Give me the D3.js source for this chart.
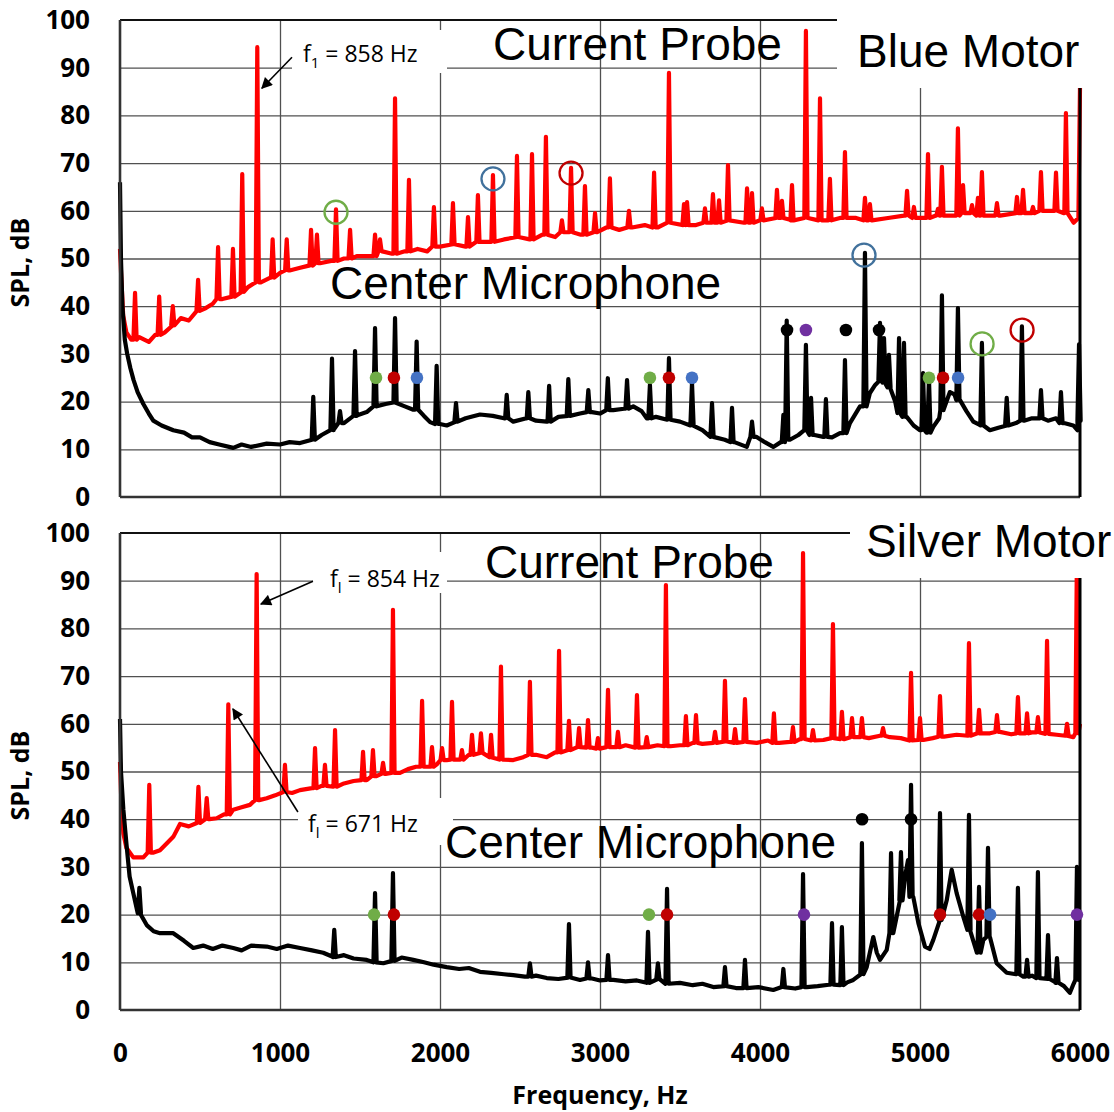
<!DOCTYPE html>
<html>
<head>
<meta charset="utf-8">
<script src="https://cdn.jsdelivr.net/npm/d3@7"></script>
<style>
body{margin:0;background:#fff;}
svg{display:block;}
.tick text{font-family:"Open Sans",sans-serif;font-weight:bold;font-size:26px;fill:#000;}
.big{font-family:"Liberation Sans",Arial,sans-serif;font-size:46px;fill:#000;}
.note{font-family:"Open Sans",sans-serif;font-size:23px;fill:#000;}
.ttl{font-family:"Open Sans",sans-serif;font-weight:bold;font-size:25px;fill:#000;}
</style>
</head>
<body>
<div class="container"></div>
<script>
// x / y ticks
var freqTicks=[0,1000,2000,3000,4000,5000,6000];
var splTicks=[0,10,20,30,40,50,60,70,80,90,100];

// Blue motor, current probe: baseline samples [Hz, dB]
var blueProbe=[[0,52],[8,46],[20,38],[40,34.5],[70,33],[120,33.5],[180,32.5],[220,34],[280,34.5],[330,36],[380,37.5],[430,37],[480,39],[530,39.5],[580,40.5],[640,41.5],[700,42],[760,43],[800,44],[880,45],[940,46],[1000,47],[1060,47.5],[1120,48],[1180,48.5],[1250,49],[1320,49.5],[1400,50],[1480,50.5],[1560,50.5],[1640,51.5],[1700,51],[1780,51.5],[1860,52],[1920,51.5],[2000,52.5],[2080,53],[2160,52.5],[2240,53.5],[2320,53.5],[2400,54],[2480,54.5],[2560,54],[2640,55],[2720,54.5],[2800,55.5],[2880,55],[2960,55.5],[3040,56.5],[3120,56],[3200,56.5],[3280,57],[3360,56.5],[3440,57.5],[3520,57],[3600,57],[3700,57.5],[3800,58],[3900,57.5],[4000,58],[4100,58.5],[4200,58],[4300,58.5],[4400,58],[4500,58.5],[4600,58.5],[4700,58],[4800,58.5],[4900,59],[5000,58.5],[5100,59],[5200,59],[5300,59.5],[5400,59],[5500,59],[5600,59.5],[5700,59.5],[5800,60],[5900,59.5],[5960,57.5],[5990,58.5],[6000,86]];
// Blue motor, current probe: spikes [Hz, dB]
var blueProbePeaks=[[94,42.8],[245,42],[330,40],[488,45.5],[613,52.4],[706,52],[764,67.7],[858,94.3],[954,54],[1042,54],[1194,56],[1231,55],[1350,60.3],[1438,56],[1594,55],[1625,54],[1719,83.6],[1806,66.5],[1962,60.8],[2081,61.6],[2175,58.7],[2237,63.3],[2331,67.5],[2481,71.5],[2575,71.9],[2662,75.5],[2762,58],[2819,69],[2906,65.2],[2969,59.5],[3062,66.8],[3181,60],[3338,68],[3431,88.9],[3525,61.4],[3544,61.8],[3656,60.5],[3706,63.5],[3744,62.2],[3800,69.6],[3919,64.7],[3950,63.7],[4012,60.5],[4106,64.4],[4137,62.1],[4200,65.4],[4287,97.7],[4375,83.6],[4437,66.7],[4531,72.3],[4656,62.7],[4687,61.4],[4919,64.2],[4962,60.8],[5050,71.9],[5112,60.4],[5137,69.2],[5237,77.3],[5269,65.4],[5325,61.2],[5362,62.7],[5387,68.1],[5481,61.6],[5606,62.9],[5644,64.4],[5706,60.8],[5756,68.1],[5850,68],[5912,80.5]];

// Blue motor, center microphone
var blueMic=[[0,66],[6,50],[15,40],[30,33],[45,30],[65,27],[85,24.5],[110,22],[146,19.5],[180,17.5],[208,16],[260,15],[333,14],[400,13.5],[450,12.5],[500,12.5],[560,11.5],[620,11],[708,10.3],[760,11],[820,10.5],[917,11.2],[1000,11],[1060,11.5],[1125,11.3],[1200,12],[1260,13],[1333,14],[1400,15.5],[1470,17],[1542,17.8],[1600,19],[1660,19.5],[1720,19.8],[1780,19],[1833,18.3],[1900,17],[1938,15.7],[2000,15.3],[2042,15],[2100,15.8],[2160,16.5],[2250,17.3],[2330,17],[2400,16.5],[2458,15.8],[2540,16.5],[2600,16],[2667,15.8],[2740,16.8],[2800,17],[2875,17.5],[2950,17.8],[3000,17.5],[3083,18.2],[3150,18.5],[3208,19],[3260,18],[3292,16.5],[3350,16.8],[3420,16.2],[3500,15.8],[3580,15],[3640,14],[3708,12.6],[3780,12],[3840,11.5],[3917,10.5],[3979,12.6],[4030,11.5],[4083,10.5],[4130,11.5],[4187,12],[4240,13],[4292,14],[4340,13],[4396,12.6],[4450,12.5],[4500,13.4],[4562,15.5],[4625,19],[4687,21.8],[4720,23.5],[4750,24.5],[4780,24],[4812,23],[4845,20],[4875,17.6],[4917,16.8],[4960,15],[5000,14],[5040,13.5],[5083,14.7],[5120,16.5],[5146,18.2],[5187,22],[5215,21.5],[5250,20.3],[5290,18],[5333,15.8],[5380,15],[5437,14],[5490,14.5],[5542,15],[5600,15.5],[5650,16],[5700,16.5],[5750,16.5],[5800,16],[5850,16.5],[5900,15.5],[5958,15],[5985,14],[6000,16]];
var blueMicPeaks=[[1208,21],[1325,29],[1375,18],[1469,30.6],[1594,35.4],[1719,37.5],[1854,32.6],[1979,27.5],[2100,19.7],[2417,21.4],[2552,22],[2682,23.3],[2802,24.7],[2927,22.4],[3049,24.9],[3169,24.5],[3312,23.5],[3431,29.1],[3575,23.9],[3700,19.7],[3825,18.7],[3950,15.8],[4146,17.2],[4167,37],[4287,31.9],[4319,20.8],[4412,20.5],[4531,28.7],[4656,51.2],[4750,36.5],[4775,33.3],[4806,29.8],[4869,33.3],[4900,32.3],[5019,26],[5056,24.9],[5137,42.3],[5237,39.6],[5387,32.3],[5542,20.8],[5637,35.8],[5756,22.4],[5881,22],[5994,32]];

// Silver motor, current probe
var silverProbe=[[0,52],[8,44],[21,37],[40,34],[83,32],[146,32],[210,33],[250,33.5],[333,36.3],[375,39],[430,38.5],[500,39.2],[560,40],[604,40.2],[650,41],[708,42],[760,42.5],[812,43],[870,44],[917,44.4],[970,45],[1021,45.7],[1075,45.5],[1125,46.1],[1200,46.5],[1260,47],[1333,46.8],[1400,47.5],[1460,48],[1542,48.2],[1600,49],[1660,49.5],[1750,49.7],[1800,50.5],[1850,51],[1920,51],[1980,51.5],[2042,52.4],[2100,52.5],[2180,53.5],[2250,53.9],[2320,53],[2400,52.5],[2458,52.4],[2520,53],[2600,53.5],[2667,53],[2720,54],[2800,54.5],[2875,55.1],[2950,55],[3000,54.8],[3083,55.1],[3160,55.5],[3220,55],[3292,55.1],[3360,55.5],[3440,55.3],[3500,55.5],[3580,56],[3640,55.8],[3708,56],[3780,56.3],[3840,56],[3917,56.2],[3979,56],[4050,56.5],[4120,56],[4187,56.2],[4250,56.8],[4320,56.5],[4396,56.6],[4460,57],[4530,56.8],[4604,57.2],[4680,57],[4750,57.5],[4812,57.2],[4880,57],[4950,56.5],[5021,56.6],[5080,57],[5150,57.3],[5229,57.7],[5300,57.5],[5370,58],[5437,58],[5500,58.3],[5570,57.8],[5646,58],[5700,58.2],[5780,57.9],[5854,57.7],[5920,57.5],[5958,57.2],[5990,58],[6000,60]];
var silverProbePeaks=[[183,47.2],[490,46.8],[542,44.4],[677,64.1],[854,91.4],[1031,51.4],[1219,54.9],[1281,51.4],[1344,58.7],[1519,54.1],[1581,54.5],[1644,51.8],[1706,83.9],[1888,64.8],[1950,55.1],[2013,54.9],[2075,64.6],[2137,54.5],[2200,57.7],[2256,58],[2319,57.7],[2381,72],[2562,68.8],[2744,75.3],[2806,60.6],[2869,59.1],[2925,60.8],[2987,57],[3050,67.1],[3112,58.3],[3231,66],[3292,57.2],[3412,89.1],[3537,61.6],[3600,61.8],[3719,58.3],[3781,69],[3844,58.9],[3906,65.2],[4087,62.2],[4206,59.3],[4269,95.8],[4331,58.7],[4456,80.9],[4512,62.5],[4575,61.2],[4637,61.2],[4769,59.1],[4944,70.7],[5000,61.2],[5125,65.8],[5306,76.9],[5369,62.9],[5481,61.8],[5612,65.6],[5669,62.2],[5737,61.4],[5794,77.4],[5919,60],[5981,96]];

// Silver motor, center microphone
var silverMic=[[0,61],[6,50],[21,42],[42,34.2],[60,28],[83,24.5],[125,20.3],[167,17.8],[210,16.5],[250,16.1],[333,16.1],[400,14.5],[458,13],[520,13.5],[580,12.8],[640,13.5],[708,13],[760,12.5],[820,13.5],[917,13.3],[980,12.8],[1050,13.5],[1125,13],[1200,12.5],[1270,12],[1333,11.1],[1400,11.5],[1460,10.8],[1542,10.5],[1600,10],[1646,9.8],[1700,10.3],[1760,11],[1833,10.5],[1900,10],[1960,9.5],[2042,9],[2120,8.6],[2180,8.8],[2250,8],[2320,7.8],[2400,7.5],[2458,7.3],[2530,7],[2600,7.2],[2667,6.7],[2740,6.5],[2800,6.8],[2875,6.3],[2950,6.6],[3000,6.2],[3083,6.3],[3160,6],[3230,6.2],[3292,5.7],[3360,6.5],[3430,5.5],[3500,5.7],[3580,5.2],[3640,5.5],[3708,4.8],[3780,5],[3850,4.6],[3917,4.6],[3990,4.8],[4083,4.2],[4150,4.8],[4220,4.5],[4292,4.8],[4360,5],[4430,5.3],[4500,5.2],[4545,5.8],[4583,6.3],[4630,7.5],[4667,9],[4708,15.3],[4730,12],[4750,10.5],[4792,12.6],[4833,16.1],[4875,23],[4906,27.9],[4925,31.4],[4958,23.7],[4990,18.2],[5031,13.3],[5060,12.8],[5083,14.7],[5125,18.9],[5167,23],[5198,29.4],[5229,24.5],[5271,19.5],[5312,16.8],[5356,12],[5396,14.7],[5437,15.3],[5479,9.8],[5542,7.8],[5600,7.5],[5646,7],[5700,7.2],[5750,6.7],[5800,6.5],[5854,5.7],[5900,5],[5937,3.6],[5960,5.5],[6000,6.3]];
var silverMicPeaks=[[121,25.6],[1339,16.8],[1594,24.5],[1706,28.7],[2562,9.8],[2806,18],[2925,10],[3050,11.5],[3300,16.4],[3362,9.8],[3419,25.4],[3781,9],[3906,10.5],[4146,8.6],[4269,28.5],[4450,18.2],[4512,17.4],[4637,35],[4819,32.9],[4881,33.1],[4944,47.2],[5125,41.3],[5306,40.9],[5369,25.8],[5425,34],[5612,25.6],[5669,10.5],[5737,28.9],[5800,15.7],[5856,10.9],[5981,30]];

// harmonic markers [Hz, dB, family]
var blueRings=[[1350,59.7,"green"],[2331,66.7,"blue"],[2819,67.9,"red"],[4650,50.7,"blue"],[5388,32.1,"green"],[5638,35,"red"]];
var blueDots=[[1600,25,"green"],[1712,25,"red"],[1856,25,"blue"],[3312,25,"green"],[3431,25,"red"],[3575,25,"blue"],[5056,25,"green"],[5144,25,"red"],[5238,25,"blue"],[4169,35,"black"],[4287,35,"purple"],[4537,35,"black"],[4744,35,"black"]];
var silverRings=[];
var silverDots=[[1588,20,"green"],[1712,20,"red"],[3306,20,"green"],[3419,20,"red"],[4275,20,"purple"],[5125,20,"red"],[5369,20,"red"],[5438,20,"blue"],[5981,20,"purple"],[4638,40,"black"],[4944,40,"black"]];

var ringColor={green:"#70ad47",blue:"#41719c",red:"#c00000"};
var dotColor={green:"#70ad47",blue:"#4472c4",red:"#c00000",purple:"#7030a0",black:"#000"};

var W=1114,H=1112;
var x=d3.scaleLinear().domain([0,6000]).range([120,1080]);
var yTop=d3.scaleLinear().domain([0,100]).range([497,20]);
var yBot=d3.scaleLinear().domain([0,100]).range([1010,533]);

var svg=d3.select(".container").append("svg").attr("width",W).attr("height",H);

svg.append("defs").append("marker")
	.attr("id","arr").attr("viewBox","0 0 10 10")
	.attr("refX",9).attr("refY",5)
	.attr("markerWidth",8).attr("markerHeight",7)
	.attr("orient","auto")
	.append("path").attr("d","M0,0L10,5L0,10z").attr("fill","#000");

// baseline samples + narrow spikes -> pixel polyline
function spectrum(base,peaks,y){
	var fs=base.map(function(d){return d[0];});
	var pts=base.map(function(d){return {f:d[0],p:[[x(d[0]),y(d[1])]]};});
	peaks.forEach(function(pk){
		var i=d3.minIndex(fs,function(f){return Math.abs(f-pk[0]);});
		var foot=y(base[i][1]), px=x(pk[0]);
		pts.push({f:pk[0],p:[[px-1.6,foot],[px,y(pk[1])],[px+1.6,foot]]});
	});
	pts.sort(function(a,b){return a.f-b.f;});
	return d3.merge(pts.map(function(d){return d.p;}));
}

var line=d3.line();

function drawPanel(y,probe,probePk,mic,micPk,rings,dots){
	var g=svg.append("g");
	var h=y(0)-y(100);

	// grid
	g.append("g").attr("transform","translate(120,0)")
		.call(d3.axisLeft(y).tickValues(splTicks.slice(1,10)).tickSize(-960).tickFormat(""))
		.call(function(a){a.select(".domain").remove();a.selectAll("line").attr("stroke","#505050").attr("stroke-width",1.3);});
	g.append("g").attr("transform","translate(0,"+y(0)+")")
		.call(d3.axisBottom(x).tickValues(freqTicks.slice(1,6)).tickSize(-h).tickFormat(""))
		.call(function(a){a.select(".domain").remove();a.selectAll("line").attr("stroke","#505050").attr("stroke-width",1.3);});

	g.append("path").attr("d",line(spectrum(probe,probePk,y)))
		.attr("fill","none").attr("stroke","#ff0000").attr("stroke-width",4.2).attr("stroke-linejoin","round");
	g.append("path").attr("d",line(spectrum(mic,micPk,y)))
		.attr("fill","none").attr("stroke","#000").attr("stroke-width",4.2).attr("stroke-linejoin","round");

	// frame
	g.append("line").attr("x1",x(0)).attr("x2",x(6000)).attr("y1",y(100)).attr("y2",y(100)).attr("stroke","#111").attr("stroke-width",2.2);
	g.append("line").attr("x1",x(0)).attr("x2",x(6000)).attr("y1",y(0)).attr("y2",y(0)).attr("stroke","#333").attr("stroke-width",2.6);
	g.append("line").attr("x1",x(0)).attr("x2",x(0)).attr("y1",y(0)).attr("y2",y(100)).attr("stroke","#333").attr("stroke-width",2.6);
	g.append("line").attr("x1",x(6000)).attr("x2",x(6000)).attr("y1",y(0)).attr("y2",y(100)).attr("stroke","#000").attr("stroke-width",3);

	g.selectAll("circle.ring").data(rings).enter().append("circle")
		.attr("cx",function(d){return x(d[0]);}).attr("cy",function(d){return y(d[1]);})
		.attr("r",11.5).attr("fill","none").attr("stroke-width",2.3)
		.attr("stroke",function(d){return ringColor[d[2]];});
	g.selectAll("circle.dot").data(dots).enter().append("circle")
		.attr("cx",function(d){return x(d[0]);}).attr("cy",function(d){return y(d[1]);})
		.attr("r",6.3).attr("fill",function(d){return dotColor[d[2]];});

	// y tick labels
	g.append("g").attr("transform","translate(120,0)")
		.call(d3.axisLeft(y).tickValues(splTicks).tickSize(0).tickPadding(30))
		.call(function(a){a.select(".domain").remove();});

	g.append("text").attr("class","ttl")
		.attr("transform","translate(29,"+(y(50)+4)+") rotate(-90)")
		.attr("text-anchor","middle").text("SPL, dB");
	return g;
}

function fLabel(g,bx,tx,ty,sub,rest){
	g.append("rect").attr("x",bx[0]).attr("y",bx[1]).attr("width",bx[2]).attr("height",bx[3]).attr("fill","#fff");
	var t=g.append("text").attr("class","note").attr("x",tx).attr("y",ty);
	t.append("tspan").text("f");
	t.append("tspan").attr("dy",6).attr("font-size",15).text(sub);
	t.append("tspan").attr("dy",-6).text(rest);
}
function arrow(g,tail,tip,y){
	g.append("line").attr("x1",x(tail[0])).attr("y1",y(tail[1])).attr("x2",x(tip[0])).attr("y2",y(tip[1]))
		.attr("stroke","#000").attr("stroke-width",1.6).attr("marker-end","url(#arr)");
}

var topG=drawPanel(yTop,blueProbe,blueProbePeaks,blueMic,blueMicPeaks,blueRings,blueDots);
fLabel(topG,[292,30,155,43],303,62,"1"," = 858 Hz");
arrow(topG,[1075,92.2],[887,85.7],yTop);
topG.append("rect").attr("x",837).attr("y",0).attr("width",277).attr("height",88).attr("fill","#fff");
topG.append("text").attr("class","big").attr("x",857).attr("y",67).text("Blue Motor");
topG.append("text").attr("class","big").attr("x",493).attr("y",60).text("Current Probe");
topG.append("text").attr("class","big").attr("x",330).attr("y",299).text("Center Microphone");

var botG=drawPanel(yBot,silverProbe,silverProbePeaks,silverMic,silverMicPeaks,silverRings,silverDots);
fLabel(botG,[313,552,134,41],330,587,"l"," = 854 Hz");
arrow(botG,[1206,89.9],[881,85.1],yBot);
fLabel(botG,[298,798,155,47],308,832,"l"," = 671 Hz");
arrow(botG,[1112,41.5],[706,63.1],yBot);
botG.append("rect").attr("x",850).attr("y",505).attr("width",264).attr("height",73).attr("fill","#fff");
botG.append("text").attr("class","big").attr("x",866).attr("y",557).text("Silver Motor");
botG.append("text").attr("class","big").attr("x",485).attr("y",578).text("Current Probe");
botG.append("text").attr("class","big").attr("x",445).attr("y",858).text("Center Microphone");

// x axis
botG.append("g").attr("transform","translate(0,1010)")
	.call(d3.axisBottom(x).tickValues(freqTicks).tickSize(0).tickPadding(34).tickFormat(d3.format("d")))
	.call(function(a){a.select(".domain").remove();});
botG.append("text").attr("class","ttl").attr("x",x(3000)).attr("y",1104)
	.attr("text-anchor","middle").text("Frequency, Hz");
</script>
</body>
</html>
